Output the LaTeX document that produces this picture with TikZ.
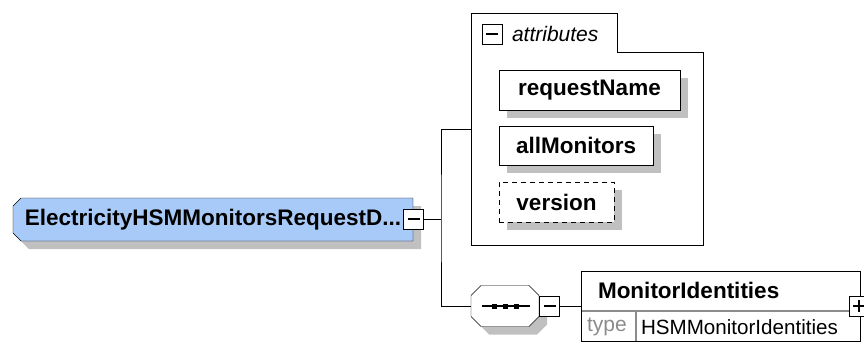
\documentclass[tikz,border=0pt]{standalone}
\usepackage{fontspec}
\setmainfont{Liberation Sans}
\usetikzlibrary{calc,shadows}
\definecolor{elemblue}{RGB}{168,202,248}
\definecolor{shadowgray}{RGB}{192,192,192}
\definecolor{rowgray}{RGB}{140,140,140}
\pgfdeclarelayer{bg}
\pgfsetlayers{bg,main}
\begin{document}
\begin{tikzpicture}[x=1pt,y=-1pt,line width=1.5pt,
  plain/.style={inner sep=0pt,outer sep=0pt},
  bold/.style={font=\fontsize{22.5}{24}\selectfont\bfseries},
  attrbox/.style={plain,draw,fill=white,bold,
    drop shadow={shadow xshift=8pt,shadow yshift=-8pt,opacity=1,fill=shadowgray}},
  togglebox/.style={plain,draw,fill=white,minimum width=20pt,minimum height=20pt},
]
\useasboundingbox (0,0) rectangle (864,343);

% main element
\node[plain,bold,minimum width=400pt,minimum height=43pt] (main) at (213,219.5) {ElectricityHSMMonitorsRequestD...};
\begin{pgfonlayer}{bg}
\fill[shadowgray] ($(main.north west)+(16,8)$) -- ($(main.north east)+(8,8)$) -- ($(main.south east)+(8,8)$)
  -- ($(main.south west)+(16,8)$) -- ($(main.south west)+(8,0)$) -- ($(main.north west)+(8,16)$) -- cycle;
\draw[fill=elemblue] ($(main.north west)+(8,0)$) -- (main.north east) -- (main.south east)
  -- ($(main.south west)+(8,0)$) -- ($(main.south west)+(0,-8)$) -- ($(main.north west)+(0,8)$) -- cycle;
\end{pgfonlayer}
\node[togglebox] (mainminus) at (413.5,219) {};
\draw[line width=1.3pt] ($(mainminus.center)+(-6,0)$) -- ($(mainminus.center)+(6,0)$);

% attributes group
\node[plain,minimum width=232pt,minimum height=232pt] (attr) at (587,129) {};
\draw (attr.north west) -- ($(attr.north west)+(146,0)$) -- ($(attr.north west)+(146,39)$)
  -- ($(attr.north east)+(0,39)$) -- (attr.south east) -- (attr.south west) -- cycle;
\node[togglebox] (attrminus) at (492,34) {};
\draw[line width=1.3pt] ($(attrminus.center)+(-6,0)$) -- ($(attrminus.center)+(6,0)$);
\node[plain,anchor=west,font=\fontsize{21}{23}\selectfont\itshape] (attrlabel) at (512,34) {attributes};

\node[attrbox,minimum width=181pt,minimum height=40pt] (rn) at (589.5,90) {requestName};
\node[attrbox,minimum width=154pt,minimum height=39pt] (am) at (576,145.5) {allMonitors};
\node[attrbox,dash pattern=on 5pt off 4pt,minimum width=115pt,minimum height=40pt] (ver) at (556.5,202) {version};

% sequence
\node[plain,minimum width=68pt,minimum height=41pt] (seq) at (505,306) {};
\begin{pgfonlayer}{bg}
\fill[shadowgray] ($(seq.north west)+(18,8)$) -- ($(seq.north east)+(-2,8)$) -- ($(seq.north east)+(8,18)$)
  -- ($(seq.south east)+(8,-2)$) -- ($(seq.south east)+(-2,8)$) -- ($(seq.south west)+(18,8)$)
  -- ($(seq.south west)+(8,-2)$) -- ($(seq.north west)+(8,18)$) -- cycle;
\draw[fill=white] ($(seq.north west)+(10,0)$) -- ($(seq.north east)+(-10,0)$) -- ($(seq.north east)+(0,10)$)
  -- ($(seq.south east)+(0,-10)$) -- ($(seq.south east)+(-10,0)$) -- ($(seq.south west)+(10,0)$)
  -- ($(seq.south west)+(0,-10)$) -- ($(seq.north west)+(0,10)$) -- cycle;
\end{pgfonlayer}
\draw[line width=1.3pt] ($(seq.center)+(-23,0)$) -- ($(seq.center)+(25,0)$);
\foreach \dx in {-11,0,11} \fill ($(seq.center)+(\dx-2.5,-2.5)$) rectangle ($(seq.center)+(\dx+2.5,2.5)$);
\node[togglebox] (seqminus) at (549.5,306) {};
\draw[line width=1.3pt] ($(seqminus.center)+(-6,0)$) -- ($(seqminus.center)+(6,0)$);

% MonitorIdentities
\node[plain,draw,fill=white,minimum width=279pt,minimum height=70pt] (mi) at (720.5,306) {};
\node[plain,anchor=west,bold] (miname) at (598,290) {MonitorIdentities};
\draw[rowgray,line width=1.2pt] ($(mi.west)+(0,5)$) -- ($(mi.east)+(0,5)$);
\draw[rowgray,line width=1.2pt] (636,311) -- (636,341);
\node[plain,anchor=west,text=rowgray,font=\fontsize{21}{23}\selectfont] (mitype) at (587,327) {type};
\node[plain,anchor=west,font=\fontsize{20.6}{23}\selectfont] (mitypename) at (641,327) {HSMMonitorIdentities};
\draw (mi.north west) rectangle (mi.south east);
\node[togglebox] (miplus) at (859,306) {};
\draw[line width=1.3pt] ($(miplus.center)+(-6,0)$) -- ($(miplus.center)+(6,0)$)
  ($(miplus.center)+(0,-6)$) -- ($(miplus.center)+(0,6)$);

% connectors
\coordinate (fork) at (441,219);
\draw (mainminus.east) -- (fork);
\draw (attr.west) -| (fork) |- (seq.west);
\draw (seqminus.east) -- (mi.west);
\end{tikzpicture}
\end{document}
